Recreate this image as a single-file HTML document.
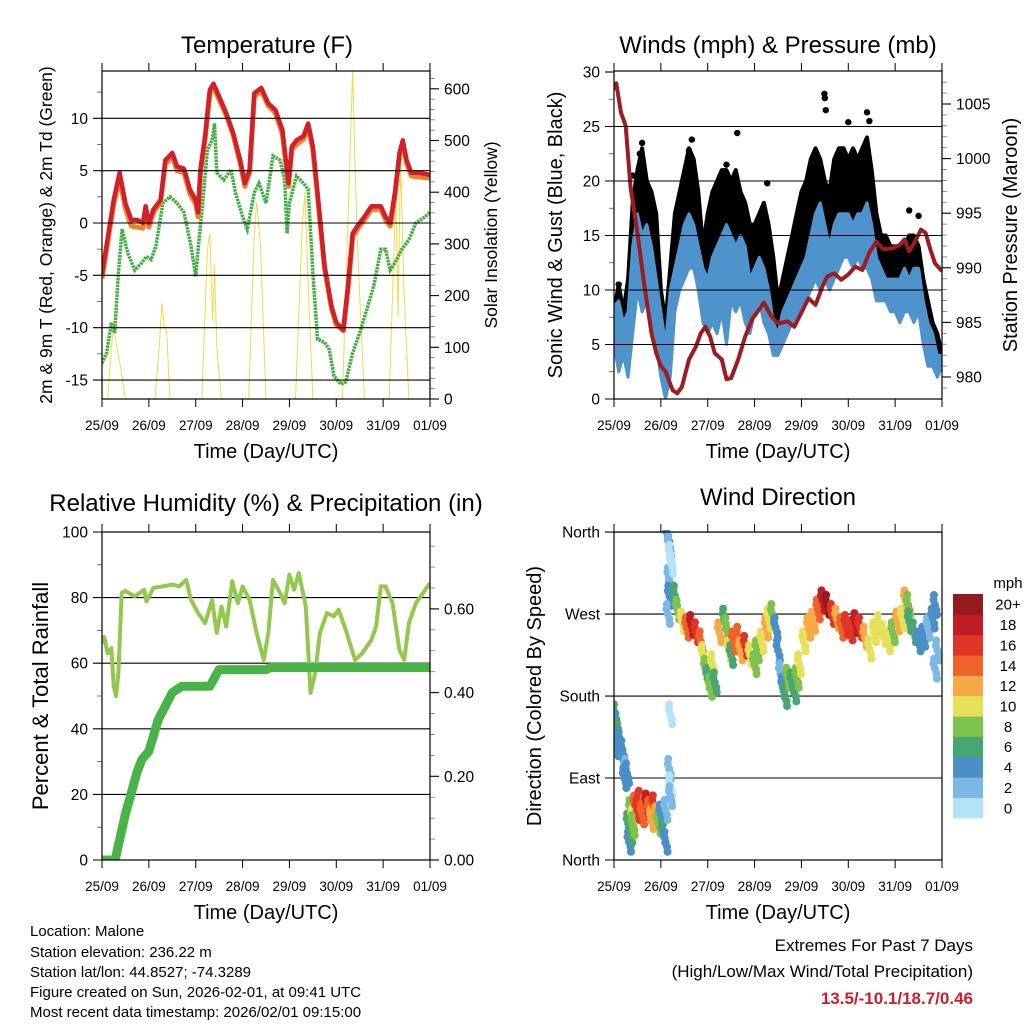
<!DOCTYPE html>
<html><head><meta charset="utf-8">
<style>
html,body{margin:0;padding:0;background:#fff;}
svg{display:block;font-family:"Liberation Sans",Arial,sans-serif;}
</style></head>
<body>
<svg id="chart" width="1024" height="1024" viewBox="0 0 1024 1024" xmlns="http://www.w3.org/2000/svg">
<defs>
<clipPath id="cTL"><rect x="102" y="71" width="328" height="328"/></clipPath>
<clipPath id="cTR"><rect x="614" y="71" width="328" height="328"/></clipPath>
<clipPath id="cBL"><rect x="102" y="532" width="328" height="328"/></clipPath>
<clipPath id="cBR"><rect x="614" y="530" width="328" height="332"/></clipPath>
</defs>
<g id="root"></g>
<text x="30" y="936" font-size="15">Location: Malone</text>
<text x="30" y="957" font-size="15">Station elevation: 236.22 m</text>
<text x="30" y="977" font-size="15">Station lat/lon: 44.8527; -74.3289</text>
<text x="30" y="997" font-size="15">Figure created on Sun, 2026-02-01, at 09:41 UTC</text>
<text x="30" y="1017" font-size="15">Most recent data timestamp: 2026/02/01 09:15:00</text>
<text x="973" y="951" font-size="17" text-anchor="end">Extremes For Past 7 Days</text>
<text x="973" y="977" font-size="17" text-anchor="end">(High/Low/Max Wind/Total Precipitation)</text>
<text x="973" y="1004" font-size="17" font-weight="bold" fill="#c8202a" text-anchor="end">13.5/-10.1/18.7/0.46</text>
</svg>
<script>
// ---------- data ----------
const dayLabels=["25/09","26/09","27/09","28/09","29/09","30/09","31/09","01/09"];
const tDays=[0,0.25,0.375,0.5,0.625,0.75,0.875,0.93,1.0,1.1,1.25,1.35,1.5,1.6,1.75,1.875,2.0,2.05,2.1,2.2,2.3,2.38,2.5,2.65,2.8,2.95,3.05,3.15,3.25,3.4,3.55,3.7,3.85,3.98,4.05,4.15,4.3,4.4,4.5,4.6,4.75,4.9,5.0,5.15,5.25,5.35,5.45,5.6,5.75,5.95,6.05,6.15,6.25,6.35,6.42,6.5,6.6,6.75,7.0];
const t2m=[-4.9,2.2,4.8,1.9,0.3,0.3,0,1.6,0,1.3,2.2,6,6.7,5.4,5.2,3.2,2.2,1,5.1,8.3,12.7,13.3,12.1,10.5,8.6,6,3.8,5.1,12.4,12.9,11.4,10.8,8.9,3.8,7.3,7.9,8.3,9.5,7.3,2.9,-4.1,-8,-9.5,-10.2,-6,-1,-0.3,0.6,1.6,1.6,0.6,0,2.9,6.7,7.9,6,4.8,4.8,4.6];
const t9m=[-5.3,1.8,4.3,1.4,-0.3,-0.4,-0.5,1.2,-0.4,1.0,2.0,5.6,6.4,5.0,4.8,2.8,1.8,0.6,4.7,8.0,12.4,13.0,11.8,10.3,8.4,5.7,3.5,4.8,12.1,12.6,11.2,10.5,8.5,3.5,7.0,7.5,8.0,9.2,7.0,2.6,-4.4,-8.2,-9.7,-10.3,-6.3,-1.3,-0.6,0.3,1.3,1.3,0.3,-0.3,2.5,6.4,7.6,5.7,4.5,4.4,4.3];
const tdDays=[0,0.1,0.2,0.27,0.35,0.43,0.55,0.7,0.85,0.95,1.05,1.15,1.3,1.45,1.6,1.75,1.9,2.0,2.05,2.15,2.25,2.35,2.4,2.45,2.6,2.75,2.85,3.0,3.1,3.25,3.35,3.5,3.65,3.8,3.9,3.95,4.0,4.15,4.3,4.4,4.5,4.6,4.75,4.85,4.95,5.1,5.2,5.35,5.5,5.65,5.8,5.95,6.05,6.15,6.25,6.4,6.55,6.7,6.9,7.0];
const td2m=[-13.4,-12.4,-9.5,-10.5,-4.8,-0.6,-2.9,-4.5,-3.8,-3.2,-3.5,-2.2,1.9,2.5,1.9,1,-2.2,-5.1,-2.5,1.9,7,7.9,9.5,4.8,4.1,5.1,2.9,0.6,-0.6,2.9,3.8,1.9,6.4,6,4.1,-1,1.9,4.5,3.8,3.2,-4.8,-11.1,-11.4,-12.1,-14.6,-15.4,-15.2,-12.4,-10.5,-8.3,-6,-2.5,-2.5,-4.5,-3.8,-2.5,-1.6,0,0.6,1];
const solDays=[0,0.12,0.2,0.25,0.3,0.4,0.5,1.13,1.22,1.28,1.33,1.38,1.45,2.13,2.25,2.3,2.36,2.4,2.45,2.55,3.13,3.25,3.3,3.38,3.5,4.13,4.27,4.33,4.4,4.5,5.13,5.27,5.35,5.4,5.45,5.6,6.13,6.27,6.32,6.37,6.45,6.55,7];
const solar=[0,0,100,150,110,60,0,0,100,185,140,130,0,0,290,320,150,260,100,0,0,320,380,300,0,0,330,400,220,0,0,400,640,450,300,0,0,400,160,460,200,0,0];
const wDays=[0,0.1,0.2,0.3,0.4,0.5,0.6,0.7,0.8,0.9,1.0,1.1,1.2,1.3,1.4,1.5,1.6,1.7,1.8,1.9,2.0,2.1,2.2,2.3,2.4,2.5,2.6,2.7,2.8,2.9,3.0,3.1,3.2,3.3,3.4,3.5,3.6,3.7,3.8,3.9,4.0,4.1,4.2,4.3,4.4,4.5,4.6,4.7,4.8,4.9,5.0,5.1,5.2,5.3,5.4,5.5,5.6,5.7,5.8,5.9,6.0,6.1,6.2,6.3,6.4,6.5,6.6,6.7,6.8,6.9,7.0];
const windLow=[5,2.5,4,2,6,10,8,9,8,5,2,0,2,8,10,11,12,12,10,7,6,7,6,8,5,9,8,9,7,6,8,9,7,6,4,4,5,6,7,7,8,9,10,11,10,11,10,11,12,13,13,12,13,12,12,11,9,9,9,8,8,7,8,8,7,8,5,3,3,2,3];
const windHigh=[8.5,9,7,8,14,17,15,16,14,11,8,5,10,12,14,16,17,16,14,12,11,13,14,15,16,15,14,15,14,11,12,13,12,10,7,6,8,9,10,11,12,13,15,17,18,16,14,16,17,17,17,16,17,17,18,16,13,12,11,11,11,11,12,11,12,12,9,7,6,4,4];
const gustHigh=[8,10.5,8,11,18,21,23,20,19,17,10,7,12,17,19,21,23,22,19,14,17,19,20,21,21,20,21,19,18,16,16,17,18,16,13,9,11,13,15,17,19,20,22,23,22,20,19,22,23,23,22,23,22,23,24,21,17,15,15,14,14,14,14,15,15,14,11,9,7,6,4];
const gustPeakDays=[0.6,0.55,1.66,1.6,2.63,2.4,3.27,4.49,4.5,4.52,5.0,5.4,5.45,6.3,6.5,0.1,0.4];
const gustPeakVals=[23.5,22.5,23.8,22.8,24.4,21.5,19.8,28,27.6,26.5,25.4,26.3,25.5,17.3,16.8,10.5,20.5];
const pDays=[0,0.05,0.15,0.25,0.35,0.5,0.65,0.8,0.9,1.0,1.1,1.25,1.35,1.45,1.6,1.75,1.85,1.95,2.05,2.15,2.3,2.4,2.5,2.65,2.8,2.95,3.1,3.2,3.35,3.5,3.7,3.85,4.0,4.15,4.3,4.45,4.55,4.7,4.85,5.0,5.15,5.3,5.45,5.6,5.75,5.95,6.1,6.2,6.3,6.45,6.55,6.65,6.75,6.85,7.0];
const pressure=[1006.3,1006.9,1004.2,1003,997.5,993.2,988.3,984,982.2,981,980.5,978.8,978.5,979.1,981.6,982.8,984,984.6,983.7,982.2,981.6,979.8,979.9,981.6,983.7,985.3,986.2,986.8,985.6,984.9,985.1,984.6,985.9,987.2,986.6,988.3,989.2,989.5,988.9,989.4,990.1,989.8,991.4,992.4,991.7,991.8,992.1,992.6,991.5,992.6,993.5,993.2,991.7,990.4,989.7];
const rhDays=[0,0.05,0.12,0.2,0.25,0.3,0.35,0.42,0.5,0.7,0.9,0.95,1.1,1.3,1.5,1.65,1.8,1.9,2.05,2.2,2.35,2.45,2.55,2.65,2.78,2.9,3.0,3.15,3.3,3.45,3.55,3.65,3.8,3.9,4.0,4.1,4.2,4.35,4.45,4.55,4.65,4.8,4.95,5.05,5.2,5.4,5.55,5.75,5.85,5.95,6.05,6.2,6.35,6.45,6.55,6.7,6.85,7.0];
const rh=[66,68,63,64.6,53,50,57,81.4,82,80.4,82.4,78.8,83,83.4,84,83.4,85.4,79.3,75.3,72.2,79.3,69.2,77.3,71.2,85,78.3,83.4,79.3,69.2,61,69.2,85.4,81.4,78.3,87,82.4,87.5,77.3,50.9,57,69.2,75.3,74.3,76.3,70.2,61,63,67.1,71.2,83.4,83.4,78.3,64,61,72.2,78.3,81.4,84.4];
const prDays=[0,0.28,0.5,0.75,0.85,1.0,1.2,1.5,1.7,2.0,2.3,2.5,3.5,3.6,7.0];
const precip=[0,0,0.11,0.21,0.24,0.26,0.335,0.40,0.415,0.415,0.415,0.455,0.455,0.46,0.46];
const dirDays=[0.02,0.05,0.08,0.12,0.18,0.2,0.25,0.28,0.05,0.22,0.3,0.32,0.35,0.4,0.45,0.5,0.55,0.6,0.65,0.7,0.75,0.8,0.85,0.9,0.95,1.0,1.05,1.1,1.1,0.35,0.4,1.15,1.18,1.2,1.17,1.2,1.18,1.15,1.22,1.2,1.18,1.2,1.2,1.3,1.35,1.45,1.55,1.65,1.75,1.85,1.9,1.95,2.0,2.05,2.1,2.15,2.25,2.35,2.4,2.45,2.5,2.55,2.65,2.7,2.8,2.9,3.0,3.05,3.15,3.25,3.3,3.38,3.45,3.5,3.55,3.6,3.65,3.7,3.8,3.85,3.9,3.95,4.05,4.15,4.25,4.35,4.45,4.55,4.65,4.75,4.85,4.95,5.05,5.15,5.25,5.35,5.45,5.55,5.65,5.75,5.85,5.95,6.05,6.15,6.22,6.28,6.3,6.4,6.5,6.6,6.7,6.8,6.85,6.9,6.85];
const dirDeg=[160,150,140,130,120,110,100,95,125,90,40,20,55,45,60,55,65,50,58,62,55,45,60,48,40,50,30,55,20,30,38,355,345,335,310,300,290,270,325,160,100,82,70,290,275,262,255,258,250,240,225,210,200,190,215,195,250,265,255,230,225,240,245,230,235,225,215,230,240,255,265,270,255,230,205,190,180,200,195,185,200,215,240,255,262,275,285,280,270,265,255,258,252,260,255,245,232,250,258,248,240,250,262,265,285,280,262,250,240,245,255,265,280,230,210];
const dirSpeed=[6,5,7,5,4,4,3,4,4,5,6,4,8,10,14,16,16,14,14,18,14,12,16,12,8,4,6,3,4,6,9,4,2,1,2,3,4,3,1,1,3,1,2,6,8,10,14,18,16,14,10,8,6,8,10,7,12,6,8,10,6,14,14,13,16,11,8,9,11,12,10,9,4,4,3,4,6,8,7,6,9,10,11,13,12,14,18,20,16,12,15,17,16,18,16,12,11,10,10,10,10,9,12,10,12,8,6,6,4,4,3,4,4,3,2];
const speedBins=["0","2","4","6","8","10","12","14","16","18","20+"];
const speedColors=["#b4e3f8","#7bb9e4","#4a8fc7","#48a672","#7cc24c","#e7e05a","#f7a946","#f0622a","#de3527","#c01d26","#951a1e"];

// ---------- helpers ----------
const NS="http://www.w3.org/2000/svg";
const root=document.getElementById('root');
function mk(tag,attrs,parent,text){const e=document.createElementNS(NS,tag);for(const k in attrs)e.setAttribute(k,attrs[k]);if(text!==undefined)e.textContent=text;(parent||root).appendChild(e);return e;}
const W=328;
function xAt(left,d){return left+d*W/7;}
function pathFrom(days,vals,left,yf){let s="";for(let i=0;i<days.length;i++){s+=(i?"L":"M")+xAt(left,days[i]).toFixed(1)+","+yf(vals[i]).toFixed(1);}return s;}

function frame(left,top,bottom,name){
  const g=mk('g',{});
  
  
  mk('rect',{x:left,y:top,width:W,height:bottom-top,fill:'none',stroke:'#000','stroke-width':1.2},g);
  for(let i=0;i<8;i++){
    const x=xAt(left,i);
    mk('line',{x1:x,y1:top,x2:x,y2:top-8,stroke:'#000','stroke-width':1},g);
    mk('line',{x1:x,y1:bottom,x2:x,y2:bottom+8,stroke:'#000','stroke-width':1},g);
    const t=mk('text',{x:x,y:bottom+31,'font-size':13.5,'text-anchor':'middle'},g,dayLabels[i]);
    
    
  }
  const xt=mk('text',{x:left+W/2,y:bottom+59,'font-size':20,'text-anchor':'middle'},g,'Time (Day/UTC)');
  
  
  return g;
}
function leftAxis(left,top,bottom,ticks,labels,yf,minor,grid){
  const g=mk('g',{});
  
  
  ticks.forEach((v,i)=>{const y=yf(v);
    if(grid)mk('line',{x1:left-9,y1:y,x2:left+W,y2:y,stroke:'#000','stroke-width':1.1},g);
    else mk('line',{x1:left-9,y1:y,x2:left,y2:y,stroke:'#000','stroke-width':1.1},g);
    const t=mk('text',{x:left-14,y:y+5.5,'font-size':15.5,'text-anchor':'end'},g,labels[i]);
    
    
  });
  minor.forEach(v=>{const y=yf(v);mk('line',{x1:left-5,y1:y,x2:left,y2:y,stroke:'#555','stroke-width':0.8},g);});
}
function rightAxis(left,ticks,labels,yf,minor){
  const r=left+W;
  const g=mk('g',{});
  
  
  ticks.forEach((v,i)=>{const y=yf(v);
    mk('line',{x1:r,y1:y,x2:r+9,y2:y,stroke:'#000','stroke-width':1.1},g);
    const t=mk('text',{x:r+14,y:y+5.5,'font-size':15.5},g,labels[i]);
    
    
  });
  minor.forEach(v=>{const y=yf(v);mk('line',{x1:r,y1:y,x2:r+5,y2:y,stroke:'#777','stroke-width':0.8},g);});
}
function title(x,y,txt,name){const t=mk('text',{x:x,y:y,'font-size':24,'text-anchor':'middle'},root,txt);}
function vtitle(x,y,txt,name,size){const t=mk('text',{x:0,y:0,'font-size':size||20,'text-anchor':'middle',transform:`translate(${x},${y}) rotate(-90)`},root,txt);}

// ---------- Temperature panel ----------
(function(){
  const L=102,T=71,B=399;
  const yT=v=>223-v*10.47, yS=w=>399-w*0.517;
  title(267,53,'Temperature (F)','temperature-title');
  const g=mk('g',{'clip-path':'url(#cTL)'});
  
  
  const sol=mk('path',{d:pathFrom(solDays,solar,L,yS),fill:'none',stroke:'#f6d84a','stroke-width':1},g);
  
  
  const td=mk('path',{d:pathFrom(tdDays,td2m,L,yT),fill:'none',stroke:'#45ad45','stroke-width':3.5,'stroke-dasharray':'2.5 0.8'},g);
  
  
  const o=mk('path',{d:pathFrom(tDays,t9m,L,yT),fill:'none',stroke:'#f47f2a','stroke-width':5,'stroke-linejoin':'round'},g);
  
  
  const r=mk('path',{d:pathFrom(tDays,t2m,L,yT),fill:'none',stroke:'#d0202a','stroke-width':4.5,'stroke-linejoin':'round'},g);
  
  
  leftAxis(L,T,B,[10,5,0,-5,-10,-15],["10","5","0","-5","-10","-15"],yT,[12.5,7.5,2.5,-2.5,-7.5,-12.5],true);
  rightAxis(L,[0,100,200,300,400,500,600],["0","100","200","300","400","500","600"],yS,[20,40,60,80,120,140,160,180,220,240,260,280,320,340,360,380,420,440,460,480,520,540,560,580,620]);
  frame(L,T,B,'temperature');
  vtitle(52,235,'2m & 9m T (Red, Orange) & 2m Td (Green)','temperature-y-title',17.5);
  vtitle(497,235,'Solar Insolation (Yellow)','solar-y-title',17.5);
})();

// ---------- Winds panel ----------
(function(){
  const L=614,T=71,B=399;
  const yW=v=>399-v*10.9, yP=p=>377-(p-980)*10.92;
  title(778,53,'Winds (mph) & Pressure (mb)','winds-title');
  const g=mk('g',{'clip-path':'url(#cTR)'});
  
  
  let s=pathFrom(wDays,gustHigh,L,yW);
  for(let i=wDays.length-1;i>=0;i--)s+="L"+xAt(L,wDays[i]).toFixed(1)+","+yW(windLow[i]+2).toFixed(1);
  const gb=mk('path',{d:s+"Z",fill:'#000',stroke:'#000','stroke-width':4,'stroke-linejoin':'round'},g);
  
  
  gustPeakDays.forEach((d,i)=>{
    const c=mk('circle',{cx:xAt(L,d),cy:yW(gustPeakVals[i]),r:3.2,fill:'#000'},g);
    
    
  });
  let s2=pathFrom(wDays,windHigh,L,yW);
  for(let i=wDays.length-1;i>=0;i--)s2+="L"+xAt(L,wDays[i]).toFixed(1)+","+yW(windLow[i]).toFixed(1);
  const wb=mk('path',{d:s2+"Z",fill:'#4f93cd',stroke:'#4f93cd','stroke-width':3,'stroke-linejoin':'round'},g);
  
  
  const p=mk('path',{d:pathFrom(pDays,pressure,L,yP),fill:'none',stroke:'#9e1b1f','stroke-width':4,'stroke-linejoin':'round'},g);
  
  
  leftAxis(L,T,B,[25,20,15,10,5,0],["25","20","15","10","5","0"],yW,[27.5,22.5,17.5,12.5,7.5,2.5],true);
  const t30=mk('text',{x:L-14,y:yW(30)+5.5,'font-size':15.5,'text-anchor':'end'},root,'30');
  
  
  mk('line',{x1:L-9,y1:yW(30),x2:L,y2:yW(30),stroke:'#000','stroke-width':1.1});
  rightAxis(L,[980,985,990,995,1000,1005],["980","985","990","995","1000","1005"],yP,[979,981,982,983,984,986,987,988,989,991,992,993,994,996,997,998,999,1001,1002,1003,1004,1006,1007]);
  frame(L,T,B,'winds');
  vtitle(562,235,'Sonic Wind & Gust (Blue, Black)','wind-y-title',20);
  vtitle(1017,235,'Station Pressure (Maroon)','pressure-y-title',20);
})();

// ---------- RH panel ----------
(function(){
  const L=102,T=532,B=860;
  const yR=v=>860-v*3.28, yPr=v=>860-v*418.5;
  title(266,511,'Relative Humidity (%) & Precipitation (in)','rh-title');
  leftAxis(L,T,B,[100,80,60,40,20,0],["100","80","60","40","20","0"],yR,[90,70,50,30,10],true);
  const g=mk('g',{'clip-path':'url(#cBL)'});
  
  
  const r=mk('path',{d:pathFrom(rhDays,rh,L,yR),fill:'none',stroke:'#93c84c','stroke-width':4,'stroke-linejoin':'round'},g);
  
  
  const p=mk('path',{d:pathFrom(prDays,precip,L,yPr),fill:'none',stroke:'#48b448','stroke-width':9,'stroke-linejoin':'round','stroke-linecap':'round'},g);
  
  
  rightAxis(L,[0,0.2,0.4,0.6],["0.00","0.20","0.40","0.60"],yPr,[0.05,0.1,0.15,0.25,0.3,0.35,0.45,0.5,0.55,0.65,0.7,0.75]);
  frame(L,T,B,'rh');
  vtitle(48,696,'Percent & Total Rainfall','rh-y-title',22);
})();

// ---------- Wind direction panel ----------
(function(){
  const L=614,T=532,B=860;
  const yD=d=>860-d*0.911;
  title(778,505,'Wind Direction','wind-direction-title');
  leftAxis(L,T,B,[0,90,180,270,360],["North","East","South","West","North"],yD,[],true);
  const g=mk('g',{'clip-path':'url(#cBR)'});
  
  
  const offs=[[0,0],[1.5,5],[-1.5,-5],[2,10],[-1,-10]];
  dirDays.forEach((d,i)=>{
    const bin=Math.min(10,Math.floor(dirSpeed[i]/2));
    const x=xAt(L,d),y=yD(dirDeg[i]);
    offs.forEach(o=>{
      const c=mk('circle',{cx:x+o[0],cy:y+o[1],r:4,fill:speedColors[bin]},g);
      
      
    });
  });
  frame(L,T,B,'wind-direction');
  vtitle(541,696,'Direction (Colored By Speed)','direction-y-title',20);
  const cb=mk('g',{});
  
  
  const bh=224/11;
  for(let i=0;i<11;i++){
    const y=594+(10-i)*bh;
    const r=mk('rect',{x:953,y:y,width:30,height:bh+0.4,fill:speedColors[i]},cb);
    
    
    const t=mk('text',{x:1008,y:y+bh/2+5.5,'font-size':15,'text-anchor':'middle'},cb,speedBins[i]);
    
    
  }
  const m=mk('text',{x:1008,y:588,'font-size':15,'text-anchor':'middle'},cb,'mph');
  
  
})();
</script>
</body></html>
